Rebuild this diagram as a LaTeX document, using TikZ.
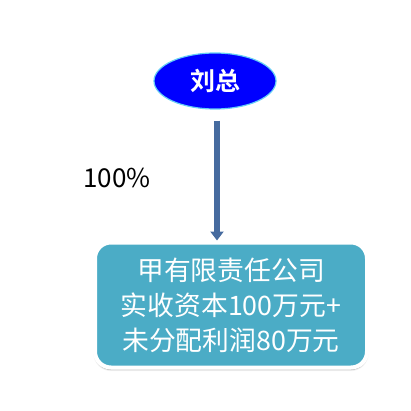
\documentclass[tikz,border=0pt]{standalone}
\usepackage{fontspec}
\newfontfamily\cjk{Noto Sans CJK SC}
\newfontfamily\cjkb{Noto Sans CJK SC Bold}
\usetikzlibrary{shapes.geometric,arrows.meta,shadows.blur}
\definecolor{boxfill}{HTML}{4BACC6}
\definecolor{ellfill}{HTML}{0000FF}
\definecolor{arrowfill}{HTML}{466B9F}
\tikzset{
  person/.style={ellipse, fill=ellfill, draw=cyan!60!white, line width=1.2pt,
    minimum width=122pt, minimum height=56pt, inner sep=0pt,
    text=white, font=\cjkb\fontsize{25}{28}\selectfont},
  company/.style={rounded corners=16pt, fill=boxfill, draw=white, line width=4pt,
    minimum width=272pt, minimum height=125pt, inner sep=0pt, align=center,
    text=white, font=\cjk\fontsize{26.8}{35}\selectfont,
    blur shadow={shadow xshift=0pt, shadow yshift=-2pt, shadow blur steps=6, shadow opacity=40}},
  pct/.style={text=black, font=\cjk\fontsize{26}{30}\selectfont, inner sep=0pt},
  shaft/.style={draw=arrowfill, line width=6pt, -{Triangle[width=13pt,length=9pt]}}
}
\begin{document}
\begin{tikzpicture}[x=1pt,y=1pt]
\useasboundingbox (0,0) rectangle (411,410);
\node[person] (liu) at (215,329) {刘总};
\node[company] (co) at (231,105) {甲有限责任公司\\实收资本100万元+\\未分配利润80万元};
\node[pct, anchor=west] (p) at (83,232) {100\%};
\coordinate (e) at ([xshift=-14pt]co.north);
\coordinate (s) at ([yshift=-11pt]liu.south -| e);
\draw[shaft] (s) -- (e);
\end{tikzpicture}
\end{document}
